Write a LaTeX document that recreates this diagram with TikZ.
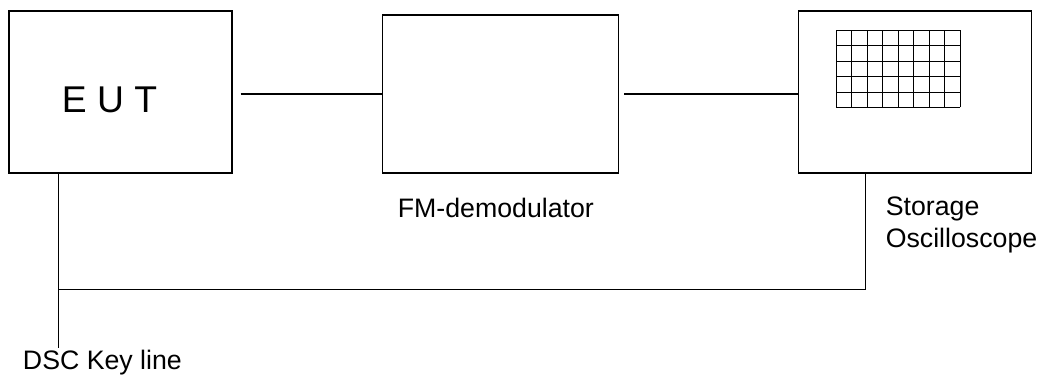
\documentclass[tikz,border=0pt]{standalone}
\usepackage{fontspec}
\setmainfont{Liberation Sans}
\usepackage{tikz}
\usetikzlibrary{positioning}

\tikzset{
  unit/.style={draw, line width=0.75pt, inner sep=0pt},
  lbl/.style={inner sep=0pt, font=\fontsize{19}{22.5}\selectfont, align=left},
}

\begin{document}
\begin{tikzpicture}[line width=0.75pt, on grid, node distance=1cm]
   \useasboundingbox (0,0) rectangle (25.975,-9.4);
   \node[unit, minimum width=5.575cm, minimum height=4.05cm] (eut) at (3.0125,-2.3) {};
   \node[unit, minimum width=5.9cm, minimum height=3.95cm] (fmd) [right=9.51cm of eut, yshift=-0.05cm] {};
   \node[unit, minimum width=5.825cm, minimum height=4.05cm] (osc) [right=10.36cm of fmd, yshift=0.05cm] {};
   % labels
   \node[lbl, font=\fontsize{26.5}{30}\selectfont] (euttxt) [above right=1.525cm and 1.325cm of eut.south west, anchor=base west] {E U T};
   \node[lbl] (fmdtxt) [below right=1.1cm and 0.375cm of fmd.south west, anchor=base west] {FM-demodulator};
   \node[lbl] (osctxt) [below right=1.85cm and 2.175cm of osc.south west, anchor=base west] {Storage\\Oscilloscope};
   % screen of the scope
   \begin{scope}[shift={(osc.north west)}, xshift=0.95cm, yshift=-2.425cm]
     \draw (0,0) grid[xstep=0.3875, ystep=0.385] (3.1,1.925);
   \end{scope}
   % signal path
   \draw[shorten <=0.2cm] (eut.east |- fmd.west) -- (fmd.west);
   \draw[shorten <=0.125cm] (fmd.east) -- (osc.west |- fmd.east);
   % key line
   \coordinate (eutport) at ([xshift=1.25cm]eut.south west);
   \coordinate (oscport) at ([xshift=1.675cm]osc.south west);
   \coordinate[below=4.35cm of eutport] (keyend);
   \coordinate[below=2.9cm of oscport] (bus);
   \draw (eutport) -- (keyend);
   \draw (oscport) -- (bus) -- (bus -| eutport);
   \node[lbl] (keytxt) [below left=0.55cm and 0.9cm of keyend, anchor=base west] {DSC Key line};
\end{tikzpicture}
\end{document}
